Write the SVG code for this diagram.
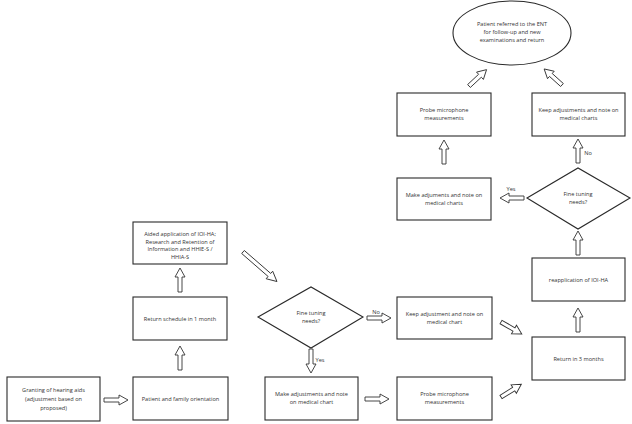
<svg xmlns="http://www.w3.org/2000/svg" width="632" height="424" viewBox="0 0 632 424">
<style>
.b{fill:#fff;stroke:#2a2a2a;stroke-width:1.1}
.t{font-family:"Open Sans","Liberation Sans",sans-serif;font-size:5.6px;fill:#333;text-anchor:middle}
.a{fill:#fff;stroke:#333;stroke-width:0.9}
</style>
<defs>
<polygon id="s" class="a" points="0,-2 15,-2 15,-5 24,0 15,5 15,2 0,2"/>
<polygon id="l" class="a" points="0,-2 35,-2 35,-5 45,0 35,5 35,2 0,2"/>
</defs>
<rect width="632" height="424" fill="#fff"/>
<g id="n1"><rect class="b" x="7" y="377" width="93" height="44"/><text class="t" x="53.5" y="392">Granting of hearing aids</text><text class="t" x="53.5" y="401">(adjustment based on</text><text class="t" x="53.5" y="410">proposed)</text></g>
<g id="n2"><rect class="b" x="133" y="377" width="95" height="43"/><text class="t" x="180.5" y="401">Patient and family orientation</text></g>
<g id="n3"><rect class="b" x="133" y="297" width="94" height="43"/><text class="t" x="180" y="321">Return schedule in 1 month</text></g>
<g id="n4"><rect class="b" x="133" y="222" width="94" height="42"/><text class="t" x="180" y="236">Aided application of IOI-HA;</text><text class="t" x="180" y="243.5">Research and Retention of</text><text class="t" x="180" y="251">Information and HHIE-S /</text><text class="t" x="180" y="258.5">HHIA-S</text></g>
<g id="d1"><polygon class="b" points="258,317 311,287 363,317 311,348"/><text class="t" x="311" y="315">Fine tuning</text><text class="t" x="311" y="323">needs?</text></g>
<g id="n5"><rect class="b" x="265" y="377" width="93" height="43"/><text class="t" x="311.5" y="396">Make adjustments and note</text><text class="t" x="311.5" y="404">on medical chart</text></g>
<g id="n6"><rect class="b" x="397" y="297" width="95" height="42"/><text class="t" x="444.5" y="316">Keep adjustment and note on</text><text class="t" x="444.5" y="324">medical chart</text></g>
<g id="n7"><rect class="b" x="397" y="377" width="95" height="43"/><text class="t" x="444.5" y="396">Probe microphone</text><text class="t" x="444.5" y="404">measurements</text></g>
<g id="n8"><rect class="b" x="532" y="337" width="93" height="43"/><text class="t" x="578.5" y="361">Return in 3 months</text></g>
<g id="n9"><rect class="b" x="532" y="258" width="93" height="43"/><text class="t" x="578.5" y="282">reapplication of IOI-HA</text></g>
<g id="d2"><polygon class="b" points="527,198 578,168 630,198 578,229"/><text class="t" x="578" y="196">Fine tuning</text><text class="t" x="578" y="204">needs?</text></g>
<g id="n10"><rect class="b" x="397" y="178" width="94" height="42"/><text class="t" x="444" y="197">Make adjuments and note on</text><text class="t" x="444" y="205">medical charts</text></g>
<g id="n11"><rect class="b" x="532" y="93" width="93" height="43"/><text class="t" x="578.5" y="112">Keep adjustments and note on</text><text class="t" x="578.5" y="120">medical charts</text></g>
<g id="n12"><rect class="b" x="397" y="93" width="94" height="43"/><text class="t" x="444" y="112">Probe microphone</text><text class="t" x="444" y="120">measurements</text></g>
<g id="n13"><ellipse class="b" cx="512" cy="33" rx="59" ry="32"/><text class="t" x="512" y="26">Patient referred to the ENT</text><text class="t" x="512" y="34">for follow-up and new</text><text class="t" x="512" y="42">examinations and return</text></g>
<g id="connectors">
<use href="#s" transform="translate(104,400)"/>
<use href="#s" transform="translate(180,370) rotate(-90)"/>
<use href="#s" transform="translate(180,292) rotate(-90)"/>
<use href="#l" transform="translate(243,252) rotate(41)"/>
<use href="#s" transform="translate(367,318)"/>
<text class="t" x="376" y="314">No</text>
<use href="#s" transform="translate(311,349) rotate(90)"/>
<text class="t" x="320" y="362">Yes</text>
<use href="#s" transform="translate(365,399)"/>
<use href="#s" transform="translate(501,322) rotate(30)"/>
<use href="#s" transform="translate(501,397) rotate(-32)"/>
<use href="#s" transform="translate(578,332) rotate(-90)"/>
<use href="#s" transform="translate(578,255) rotate(-90)"/>
<use href="#s" transform="translate(524,198) rotate(180)"/>
<text class="t" x="511" y="191">Yes</text>
<use href="#s" transform="translate(444,164) rotate(-90)"/>
<use href="#s" transform="translate(578,163) rotate(-90)"/>
<text class="t" x="588" y="155">No</text>
<use href="#s" transform="translate(469,86) rotate(-43)"/>
<use href="#s" transform="translate(562,85) rotate(-138)"/>
</g>
</svg>
